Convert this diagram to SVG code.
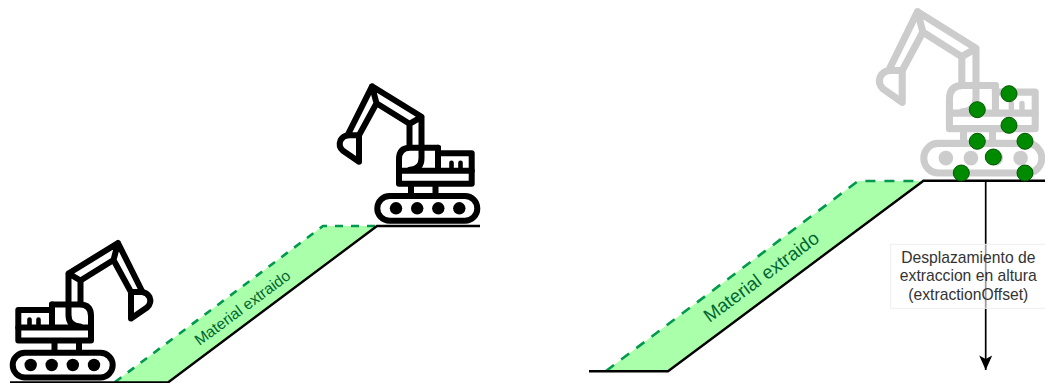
<svg xmlns="http://www.w3.org/2000/svg" width="1045" height="383" viewBox="0 0 1045 383">
<style>
.ground{fill:none;stroke:#000;stroke-width:2.4}
.mat{fill:#aaffaa;stroke:none}
.dash{fill:none;stroke:#00994d;stroke-width:2.6}
.mt{font-family:"Liberation Sans",Arial,sans-serif;fill:#006633;text-anchor:middle}
.lbl{font-family:"Liberation Sans",Arial,sans-serif;font-size:15.7px;fill:#333;text-anchor:middle}
.ex{fill:none;stroke-width:6;stroke-linejoin:round;stroke-linecap:round}
.dot{fill:#008a00;stroke:#005700;stroke-width:1}
</style>
<defs>
<marker id="ah" markerUnits="userSpaceOnUse" markerWidth="16" markerHeight="18" refX="15" refY="7" orient="auto">
<path d="M15,7 L0.5,0.5 L4,7 L0.5,13.5 Z" fill="#000"/>
</marker>
<g id="excavator" class="ex">
<rect x="12.700" y="352.800" width="100" height="24.600" rx="12.300"/>
<path d="M54.500,342 V351 M79,342 V351"/>
<path d="M18.300,310 H52 V304.500 H80 Q91,304.500 91,316 V340.500 H18.300 Z"/>
<path d="M18.300,327.500 H91 M52,304.500 V327.500"/>
<path d="M68.500,304 V315 Q68.500,326 80,326.500"/>
<path d="M68.500,304 V273.500 L118,243 L142,291 M80.500,304 V280.500 L113.500,260 L131,292 M68.500,273.500 L80.500,280.500 M118,243 L113.500,260 M131,292 H142"/>
<path d="M131,292 V318.500 L147,307.500 Q152,303 149.500,297 Q147,292.500 142,292"/>
<path d="M29.500,326 V319.500 M38.500,326 V319.500" style="stroke-width:4.600"/>
<g style="fill:currentColor;stroke:none">
<circle cx="30.700" cy="365" r="6.200"/><circle cx="51.700" cy="365" r="6.200"/><circle cx="72.800" cy="365" r="6.200"/><circle cx="94" cy="365" r="6.200"/>
</g>
</g>
</defs>

<g id="slope-left">
<path class="mat" d="M115,382 L323,226 H377 L168,382 Z"/>
<path class="dash" stroke-dasharray="8 8" d="M115,382 L323,226 H377"/>
<path class="ground" d="M10,382.500 H168 L377,226 H480"/>
<text class="mt" font-size="15.500" transform="translate(245.500,312) rotate(-36.500)">Material extraido</text>
</g>

<g id="slope-right">
<path class="mat" d="M606,371 L858,181 H923 L668,371 Z"/>
<path class="dash" stroke-dasharray="10 9" d="M606,371 L858,181 H923"/>
<path class="ground" d="M589,371.300 H668 L923.500,180.700 H1045"/>
<text class="mt" font-size="18.700" transform="translate(765,282) rotate(-36.500)">Material extraido</text>
</g>

<g id="excavator-left" style="color:#000;stroke:#000"><use href="#excavator"/></g>
<g id="excavator-top" style="color:#000;stroke:#000"><use href="#excavator" transform="translate(490,-156.700) scale(-1,1)"/></g>
<g id="excavator-ghost" style="color:#ccc;stroke:#ccc"><use href="#excavator" transform="translate(1056.800,-279.900) scale(-1.180,1.200)"/></g>

<g id="connectors">
<path d="M985.700,181 V370" fill="none" stroke="#000" stroke-width="1.700" marker-end="url(#ah)"/>
</g>

<g id="offset-label">
<rect x="890.700" y="244.300" width="155" height="64" fill="#fff" fill-opacity="0.6" stroke="#eee"/>
<text class="lbl" x="968.300" y="262.500">Desplazamiento de</text>
<text class="lbl" x="968.300" y="281">extraccion en altura</text>
<text class="lbl" x="968.300" y="300">(extractionOffset)</text>
</g>

<g id="points">
<circle class="dot" cx="1009" cy="93.700" r="8"/>
<circle class="dot" cx="977.300" cy="109.700" r="8"/>
<circle class="dot" cx="1009" cy="125.300" r="8"/>
<circle class="dot" cx="977.300" cy="141.300" r="8"/>
<circle class="dot" cx="1025" cy="141.300" r="8"/>
<circle class="dot" cx="993.300" cy="157" r="8"/>
<circle class="dot" cx="961.300" cy="173" r="8"/>
<circle class="dot" cx="1025" cy="173" r="8"/>
</g>
</svg>
